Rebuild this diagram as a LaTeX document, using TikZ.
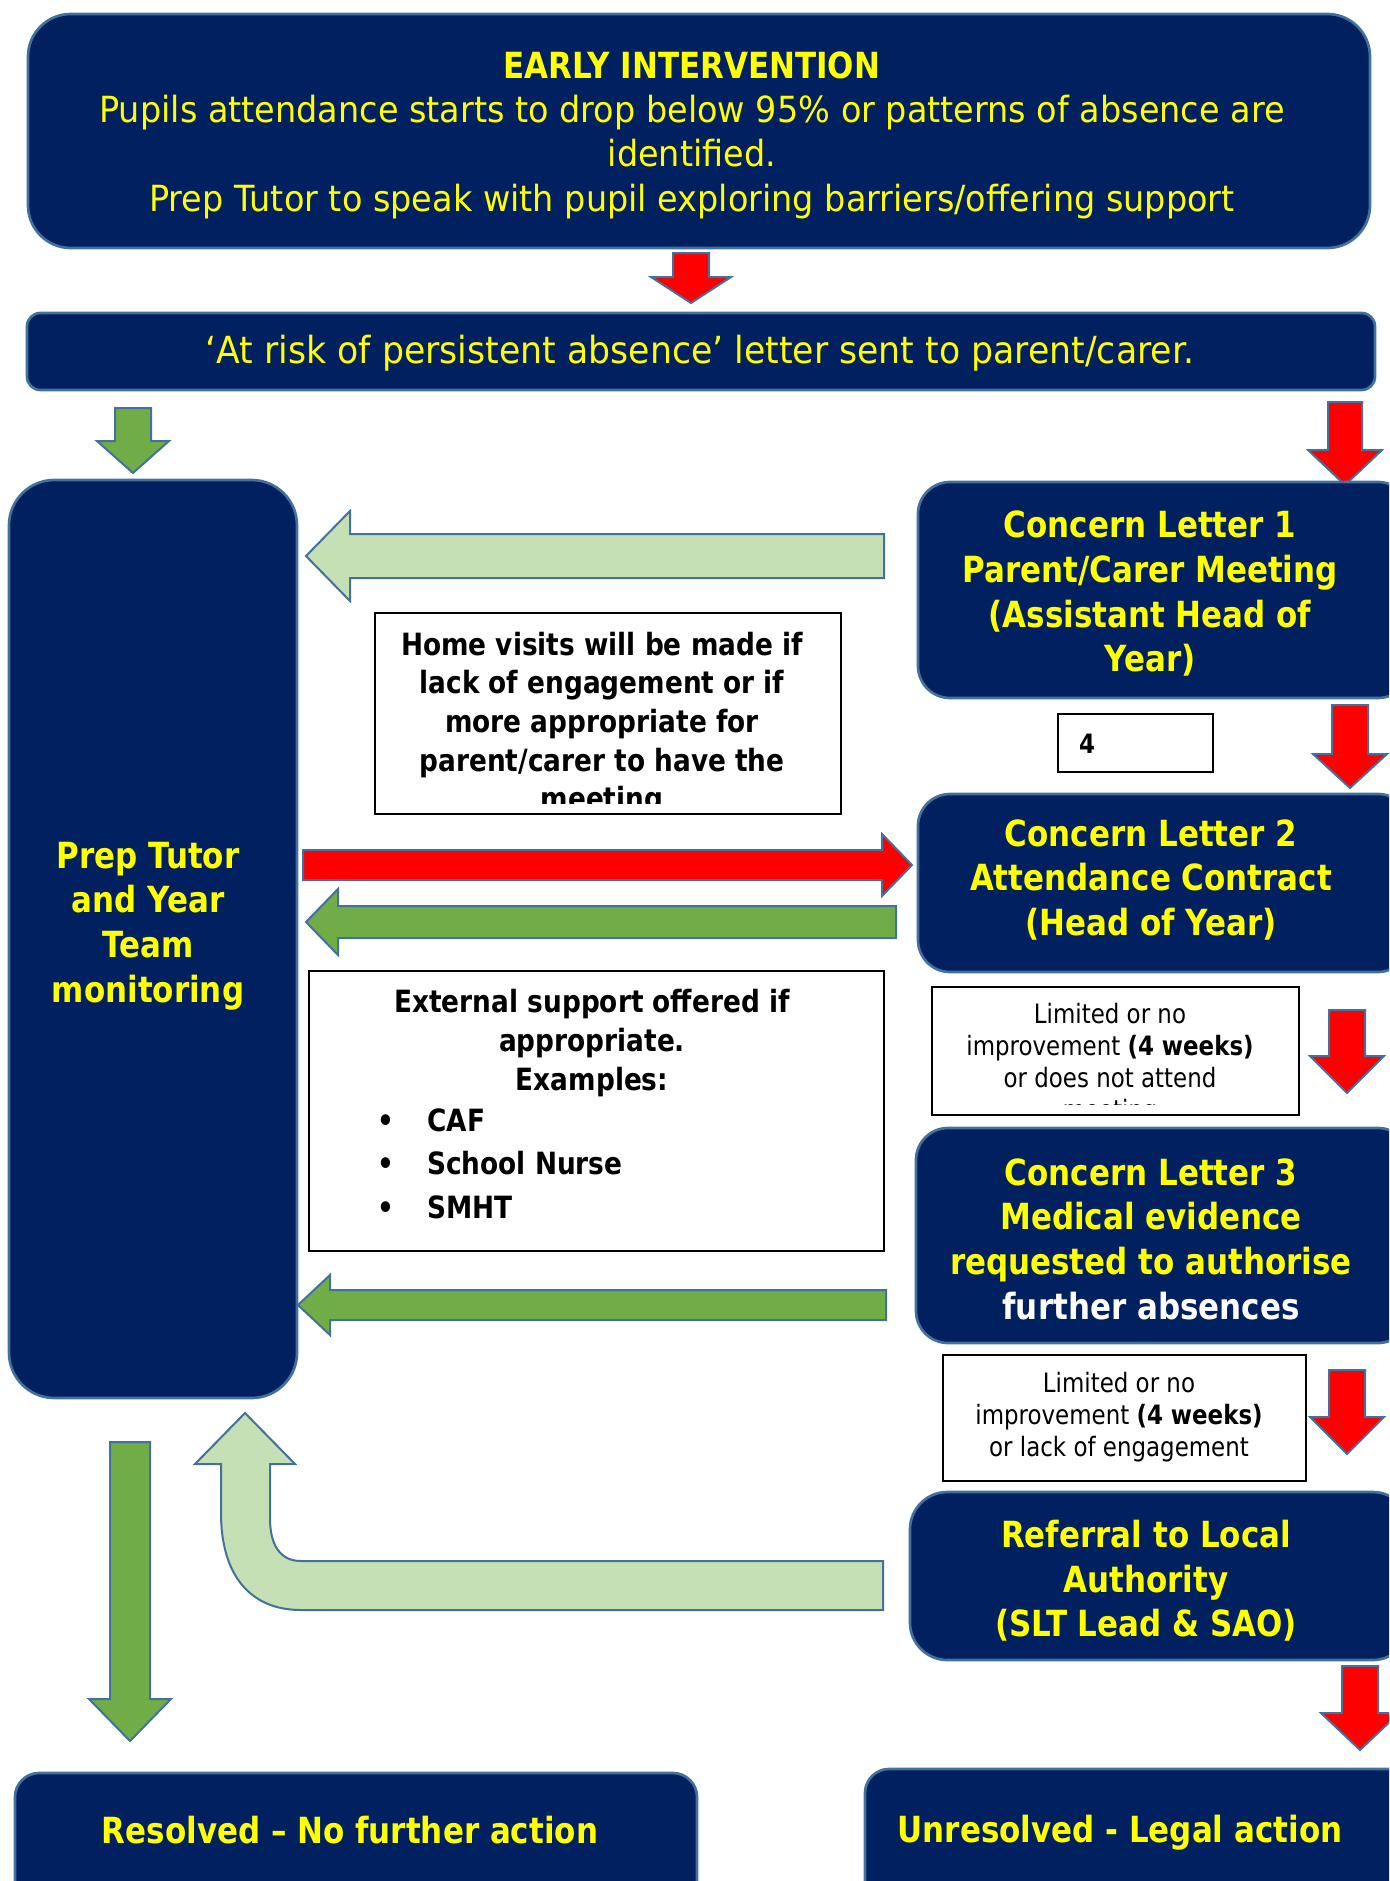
\documentclass[tikz,border=0pt]{standalone}
\usepackage{fontspec}
\setmainfont{DejaVu Sans}[FakeStretch=0.86]
\newfontfamily\widerfont{DejaVu Sans}[FakeStretch=0.93]
\definecolor{navy}{HTML}{002060}
\definecolor{edge}{HTML}{41719C}
\definecolor{yel}{HTML}{FFFF00}
\definecolor{redA}{HTML}{FF0000}
\definecolor{grnA}{HTML}{70AD47}
\definecolor{lgrn}{HTML}{C5E0B4}
% down block arrow: colour, x centre, stem half, head half, y top, y head base, y tip
\newcommand{\dnarr}[7]{\draw[blkarrow,fill=#1] ({#2-#3},#5) -- ({#2+#3},#5) -- ({#2+#3},#6) -- ({#2+#4},#6) -- (#2,#7) -- ({#2-#4},#6) -- ({#2-#3},#6) -- cycle;}
% horizontal block arrow: colour, y centre, stem half, head half, x tail, x head base, x tip
\newcommand{\hzarr}[7]{\draw[blkarrow,fill=#1] (#5,{#2-#3}) -- (#6,{#2-#3}) -- (#6,{#2-#4}) -- (#7,#2) -- (#6,{#2+#4}) -- (#6,{#2+#3}) -- (#5,{#2+#3}) -- cycle;}
\tikzset{
  blkarrow/.style={draw=edge, line width=1.5pt, line join=miter},
  navybox/.style={draw=edge, line width=2pt, fill=navy},
  wbox/.style={draw=black, line width=2pt, fill=white},
  ytext/.style={text=yel, font=\fontsize{27}{33.5}\selectfont\bfseries, align=center, inner sep=0pt},
  ytextreg/.style={text=yel, font=\widerfont\fontsize{27}{33.2}\selectfont, align=center, inner sep=0pt},
  btext/.style={text=black, font=\fontsize{23}{29}\selectfont\bfseries, align=center, inner sep=0pt},
  stext/.style={text=black, font=\fontsize{20}{24}\selectfont, align=center, inner sep=0pt},
}
\begin{document}
\begin{tikzpicture}[x=0.75pt, y=-0.75pt]
\useasboundingbox (0,0) rectangle (1389,1881);
\begin{scope}
\clip (0,0) rectangle (1389,1881);

% ---- top boxes
\draw[navybox, rounded corners=32pt] (28,14) rectangle (1370,248);
\node[ytextreg] (t1) at (692,135) {{\normalfont\bfseries EARLY INTERVENTION}\\Pupils attendance starts to drop below 95\% or patterns of absence are\\identified.\\Prep Tutor to speak with pupil exploring barriers/offering support};
\dnarr{redA}{691}{18}{40}{253}{277}{303}

\draw[navybox, rounded corners=10pt] (27,313) rectangle (1375,390);
\node[ytextreg, font=\widerfont\fontsize{28}{33.2}\selectfont, anchor=base] (t2) at (700,363) {‘At risk of persistent absence’ letter sent to parent/carer.};

\dnarr{grnA}{133}{18}{36}{408}{441}{473}
\dnarr{redA}{1345}{17}{37}{402}{450}{485}

% ---- left column
\draw[navybox, rounded corners=34pt] (9,480) rectangle (297,1398);
\node[ytext] (prep) at (148,926) {Prep Tutor\\and Year\\Team\\monitoring};

% ---- right column
\draw[navybox, rounded corners=24pt] (918,482) rectangle (1410,698);
\node[ytext] (cl1) at (1150,594) {Concern Letter 1\\Parent/Carer Meeting\\(Assistant Head of\\Year)};

\draw[wbox] (1058,714) rectangle (1213,772);
\node[font=\fontsize{20}{24}\selectfont\bfseries, inner sep=0pt] (four) at (1087,744) {4};
\dnarr{redA}{1350}{18}{37}{705}{754}{788}

\draw[navybox, rounded corners=24pt] (918,794) rectangle (1410,972);
\node[ytext] (cl2) at (1151,880) {Concern Letter 2\\Attendance Contract\\(Head of Year)};

\draw[wbox] (932,987) rectangle (1299,1115);
\begin{scope}
\clip (932,987) rectangle (1299,1104);
\node[stext] (lim1) at (1110,1064) {Limited or no\\improvement {\bfseries(4 weeks)}\\or does not attend\\meeting};
\end{scope}
\dnarr{redA}{1347}{18}{37}{1010}{1056}{1093}

\draw[navybox, rounded corners=24pt] (916,1128) rectangle (1410,1343);
\node[ytext] (cl3) at (1151,1239) {Concern Letter 3\\Medical evidence\\requested to authorise\\\textcolor{white}{further absences}};

\draw[wbox] (943,1355) rectangle (1306,1481);
\node[stext] (lim2) at (1119,1417) {Limited or no\\improvement {\bfseries(4 weeks)}\\or lack of engagement};
\dnarr{redA}{1347}{18}{37}{1370}{1417}{1454}

\draw[navybox, rounded corners=28pt] (910,1492) rectangle (1410,1660);
\node[ytext] (ref) at (1146,1581) {Referral to Local\\Authority\\(SLT Lead \& SAO)};
\dnarr{redA}{1360}{18}{39}{1666}{1713}{1750}

% ---- middle
\hzarr{lgrn}{556}{22}{45}{884}{350}{306}

\draw[wbox] (375,613) rectangle (841,814);
\begin{scope}
\clip (375,613) rectangle (841,803);
\node[btext] (home) at (602,724) {Home visits will be made if\\lack of engagement or if\\more appropriate for\\parent/carer to have the\\meeting};
\end{scope}

\hzarr{redA}{865}{15}{31}{303}{882}{912}
\hzarr{grnA}{922}{16}{33}{896}{338}{306}

\draw[wbox] (309,971) rectangle (884,1251);
\node[btext] (ext) at (592,1043) {External support offered if\\appropriate.\\Examples:};
\node[btext, anchor=base] (b1) at (386,1131) {•};
\node[btext, anchor=base west] (caf) at (427,1131) {CAF};
\node[btext, anchor=base] (b2) at (386,1174) {•};
\node[btext, anchor=base west] (sn) at (427,1174) {School Nurse};
\node[btext, anchor=base] (b3) at (386,1218) {•};
\node[btext, anchor=base west] (smht) at (427,1218) {SMHT};

\hzarr{grnA}{1305}{15}{30}{886}{330}{298}

% ---- U-turn arrow back to monitoring
\draw[blkarrow, fill=lgrn] (883,1561) -- (301,1561) .. controls (280,1561) and (270,1545) .. (270,1518) -- (270,1464) -- (295,1464) -- (245,1413) -- (195,1464) -- (221,1464) -- (221,1513) .. controls (221,1575) and (250,1610) .. (301,1610) -- (883,1610) -- cycle;

% ---- big green down arrow
\dnarr{grnA}{130}{20}{41}{1442}{1699}{1741}

% ---- bottom boxes
\draw[navybox, rounded corners=18pt] (15,1773) rectangle (697,1930);
\node[ytext, anchor=base] (res) at (350,1843) {Resolved – No further action};
\draw[navybox, rounded corners=18pt] (865,1769) rectangle (1420,1930);
\node[ytext, anchor=base] (unres) at (1120,1842) {Unresolved - Legal action};
\end{scope}
\end{tikzpicture}
\end{document}
